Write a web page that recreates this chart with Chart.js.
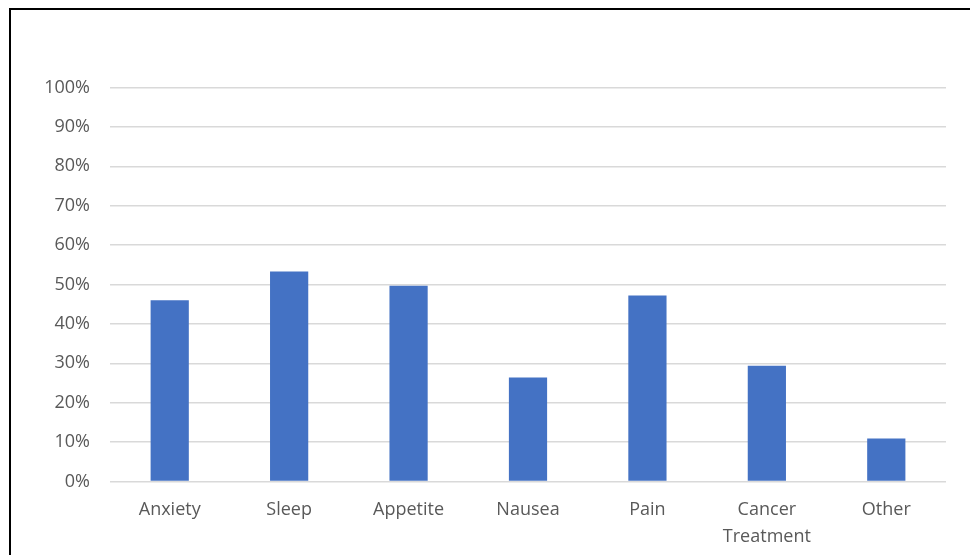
<!DOCTYPE html>
<html>
<head>
<meta charset="utf-8">
<script src="https://cdn.jsdelivr.net/npm/chart.js@4/dist/chart.umd.min.js"></script>
<style>
  html, body { margin: 0; padding: 0; background: #fff; overflow: hidden; }
  #wrap { position: relative; width: 970px; height: 555px; }
  #frame { position: absolute; left: 9px; top: 8px; width: 1000px; height: 600px; border: 2px solid #000; box-sizing: border-box; pointer-events: none; }
  canvas { position: absolute; left: 0; top: 0; }
</style>
</head>
<body>
<div id="wrap">
  <canvas id="c" width="970" height="555"></canvas>
  <div id="frame"></div>
</div>
<script>
const categories = ["Anxiety", "Sleep", "Appetite", "Nausea", "Pain", ["Cancer", "Treatment"], "Other"];
const values = [46, 53.3, 49.7, 26.4, 47.2, 29.4, 10.9];
const yTicks = [0, 10, 20, 30, 40, 50, 60, 70, 80, 90, 100];

const font = { family: "'Open Sans', 'Liberation Sans', sans-serif", size: 18 };

new Chart(document.getElementById('c'), {
  type: 'bar',
  data: {
    labels: categories,
    datasets: [{
      data: values,
      backgroundColor: '#4472C4',
      borderWidth: 0,
      categoryPercentage: 1,
      barPercentage: 0.32
    }]
  },
  options: {
    responsive: false,
    animation: false,
    devicePixelRatio: 1,
    layout: { padding: { left: 0, right: 24, top: 87.5, bottom: 0 } },
    plugins: { legend: { display: false }, tooltip: { enabled: false } },
    scales: {
      x: {
        grid: { display: false, drawTicks: false },
        border: { display: false },
        ticks: { color: '#595959', font: { ...font, lineHeight: 1.5 }, padding: 15, maxRotation: 0, autoSkip: false },
        afterFit: (s) => { s.height = 73.5; }
      },
      y: {
        min: 0, max: 100,
        afterBuildTicks: (s) => { s.ticks = yTicks.map(v => ({ value: v })); },
        grid: { color: '#d9d9d9', lineWidth: 1.5, drawTicks: false },
        border: { display: false },
        ticks: { color: '#595959', font: font, padding: 20, callback: (v) => v + '%' },
        afterFit: (s) => { s.width = 110; }
      }
    }
  }
});
</script>
</body>
</html>
